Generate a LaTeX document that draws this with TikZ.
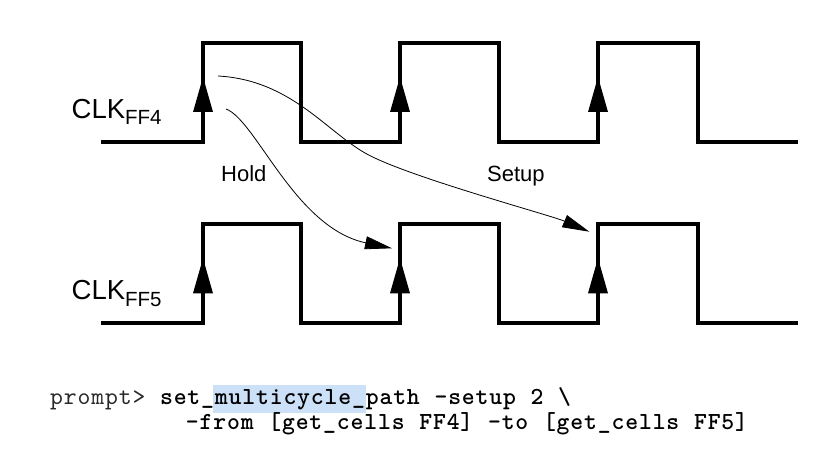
\documentclass[tikz,border=0pt]{standalone}
\usepackage{fontspec}
\setmainfont{Liberation Sans}
\newfontfamily\monofam{lmmono10-regular}[Extension=.otf, BoldFont=lmmonolt10-bold, LetterSpace=3.5, WordSpace=1.07]
\usetikzlibrary{arrows.meta}
\definecolor{hilite}{RGB}{204,224,248}
\definecolor{promptgray}{RGB}{40,40,40}
\begin{document}
\begin{tikzpicture}[x=1pt,y=-1pt,
  wave/.style={line width=4pt,line join=miter,line cap=butt},
  edgetip/.style={fill=black,draw=none},
  timing/.style={line width=0.8pt,-{Triangle[length=27pt,width=13pt]}},
  lbl/.style={anchor=base west,inner sep=0pt,font=\fontsize{22}{26}\selectfont},
  clk/.style={anchor=base west,inner sep=0pt,font=\fontsize{27.5}{30}\selectfont},
  cmd/.style={anchor=base west,inner sep=0pt,font=\monofam\fontsize{24.5}{26}\selectfont}]
\useasboundingbox (0,0) rectangle (831,462);
% top clock
\draw[wave] (101,142) -- (203,142) -- (203,43.3) -- (301,43.3) -- (301,142) -- (400,142) -- (400,43.3) -- (499,43.3) -- (499,142) -- (598,142) -- (598,43.3) -- (698,43.3) -- (698,142) -- (798,142);
% bottom clock
\draw[wave] (101,323.3) -- (203,323.3) -- (203,224.3) -- (301,224.3) -- (301,323.3) -- (400,323.3) -- (400,224.3) -- (499,224.3) -- (499,323.3) -- (598,323.3) -- (598,224.3) -- (698,224.3) -- (698,323.3) -- (798,323.3);
% rising edge arrowheads
\foreach \x in {203,400,598}{
  \fill[edgetip] (\x,77) -- (\x+10,112) -- (\x-10,112) -- cycle;
  \fill[edgetip] (\x,258.3) -- (\x+10,293.3) -- (\x-10,293.3) -- cycle;
}
% labels
\node[clk] (clk4) at (71.5,118.3) {CLK\raisebox{-6.7pt}{\fontsize{20.5}{22}\selectfont FF4}};
\node[clk] (clk5) at (71.5,300) {CLK\raisebox{-6.7pt}{\fontsize{20.5}{22}\selectfont FF5}};
\node[lbl] (hold) at (221,181.7) {Hold};
\node[lbl] (setup) at (487,181.7) {Setup};
% timing arrows
\coordinate (hs) at (226,109);
\coordinate (he) at (392,248.3);
\coordinate (ss) at (218,76);
\coordinate (se) at (589.3,231.7);
\draw[timing] (hs) .. controls (256,120) and (295,228) .. (he);
\draw[timing] (ss) .. controls (290,80) and (325,130) .. (365,153) .. controls (405,176) and (550,215) .. (se);
% command text
\fill[hilite] (213,385) rectangle (366,413);
\node[cmd] (line1) at (50,405) {\textcolor{promptgray}{prompt>} \bfseries set\_multicycle\_path -setup 2 \textbackslash};
\node[cmd] (line2) at (185.7,429.5) {\bfseries -from [get\_cells FF4] -to [get\_cells FF5]};
\end{tikzpicture}
\end{document}
